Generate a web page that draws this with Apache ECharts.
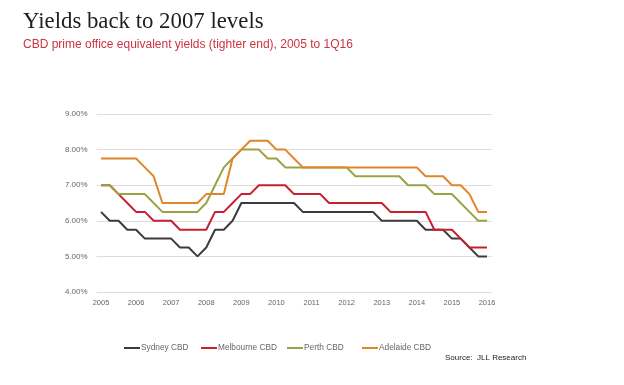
<!DOCTYPE html>
<html>
<head>
<meta charset="utf-8">
<script src="https://cdn.jsdelivr.net/npm/echarts@6/dist/echarts.min.js"></script>
<style>
html,body{margin:0;padding:0;background:#fff;}
#chart{width:624px;height:385px;}
</style>
</head>
<body>
<div id="chart"></div>
<script>
// Years shown on the axis (quarterly data, 2005 Q1 to 2016 Q1)
var years = ['2005','2006','2007','2008','2009','2010','2011','2012','2013','2014','2015','2016'];
var yTicks = [4, 5, 6, 7, 8, 9];

var sydney = [6.25,6.0,6.0,5.75,5.75,5.5,5.5,5.5,5.5,5.25,5.25,5.0,5.25,5.75,5.75,6.0,
  6.5,6.5,6.5,6.5,6.5,6.5,6.5,6.25,6.25,6.25,6.25,6.25,6.25,6.25,6.25,6.25,
  6.0,6.0,6.0,6.0,6.0,5.75,5.75,5.75,5.5,5.5,5.25,5.0,5.0];
var melbourne = [7.0,7.0,6.75,6.5,6.25,6.25,6.0,6.0,6.0,5.75,5.75,5.75,5.75,6.25,6.25,6.5,
  6.75,6.75,7.0,7.0,7.0,7.0,6.75,6.75,6.75,6.75,6.5,6.5,6.5,6.5,6.5,6.5,
  6.5,6.25,6.25,6.25,6.25,6.25,5.75,5.75,5.75,5.5,5.25,5.25,5.25];
var perth = [7.0,7.0,6.75,6.75,6.75,6.75,6.5,6.25,6.25,6.25,6.25,6.25,6.5,7.0,7.5,7.75,
  8.0,8.0,8.0,7.75,7.75,7.5,7.5,7.5,7.5,7.5,7.5,7.5,7.5,7.25,7.25,7.25,
  7.25,7.25,7.25,7.0,7.0,7.0,6.75,6.75,6.75,6.5,6.25,6.0,6.0];
var adelaide = [7.75,7.75,7.75,7.75,7.75,7.5,7.25,6.5,6.5,6.5,6.5,6.5,6.75,6.75,6.75,7.75,
  8.0,8.25,8.25,8.25,8.0,8.0,7.75,7.5,7.5,7.5,7.5,7.5,7.5,7.5,7.5,7.5,
  7.5,7.5,7.5,7.5,7.5,7.25,7.25,7.25,7.0,7.0,6.75,6.25,6.25];

var seriesNames = ['Sydney CBD','Melbourne CBD','Perth CBD','Adelaide CBD'];
var seriesData = [sydney, melbourne, perth, adelaide];
var colors = ['#3c3c3c','#c8202e','#9aa344','#e0852a'];

var quarters = [];
for (var y = 0; y < years.length; y++) {
  for (var q = 1; q <= 4; q++) {
    if (y === years.length - 1 && q > 1) break;
    quarters.push(years[y] + ' Q' + q);
  }
}

var chart = echarts.init(document.getElementById('chart'), null, {renderer:'canvas'});

var legendLefts = [119, 196, 282, 357];
var legends = seriesNames.map(function(n, i){
  return {
    data:[n], left: legendLefts[i], top: 339,
    icon:'rect', itemWidth:16, itemHeight:2, itemGap:0,
    textStyle:{fontFamily:'Liberation Sans, Arial', fontSize:8.3, color:'#666', padding:[0,0,0,-4]}
  };
});

var option = {
  backgroundColor:'#fff',
  animation:false,
  color: colors,
  title:[
    {text:'Yields back to 2007 levels', left:18, top:6,
     textStyle:{fontFamily:'Liberation Serif, Times New Roman, serif', fontSize:22.8, fontWeight:'normal', color:'#1e1e1e'}},
    {text:'CBD prime office equivalent yields (tighter end), 2005 to 1Q16', left:18, top:34,
     textStyle:{fontFamily:'Liberation Sans, Arial, sans-serif', fontSize:12, fontWeight:'normal', color:'#cc3340'}}
  ],
  legend: legends,
  grid:{left:96.6, width:394.8, top:114, height:178, containLabel:false},
  xAxis:{
    type:'category', data:quarters, boundaryGap:true,
    axisLine:{show:false}, axisTick:{show:false},
    axisLabel:{interval:3, color:'#666', fontSize:7.5, fontFamily:'Liberation Sans, Arial', margin:7,
      formatter:function(v){return v.split(' ')[0];}}
  },
  yAxis:{
    type:'value', min:yTicks[0], max:yTicks[yTicks.length-1], interval:1,
    axisLine:{show:false}, axisTick:{show:false},
    splitLine:{lineStyle:{color:'#dcdcdc', width:1}},
    axisLabel:{color:'#666', fontSize:8, fontFamily:'Liberation Sans, Arial', margin:9,
      formatter:function(v){return v.toFixed(2)+'%';}}
  },
  series: seriesNames.map(function(n, i){
    return {name:n, type:'line', data:seriesData[i], symbol:'none',
      lineStyle:{width:2, color:colors[i]}, itemStyle:{color:colors[i]}};
  }),
  graphic:[
    {type:'text', left:445, top:354, style:{text:'Source:  JLL Research', fontSize:8, fontFamily:'Liberation Sans, Arial', fill:'#222'}}
  ]
};
chart.setOption(option);
</script>
</body>
</html>
